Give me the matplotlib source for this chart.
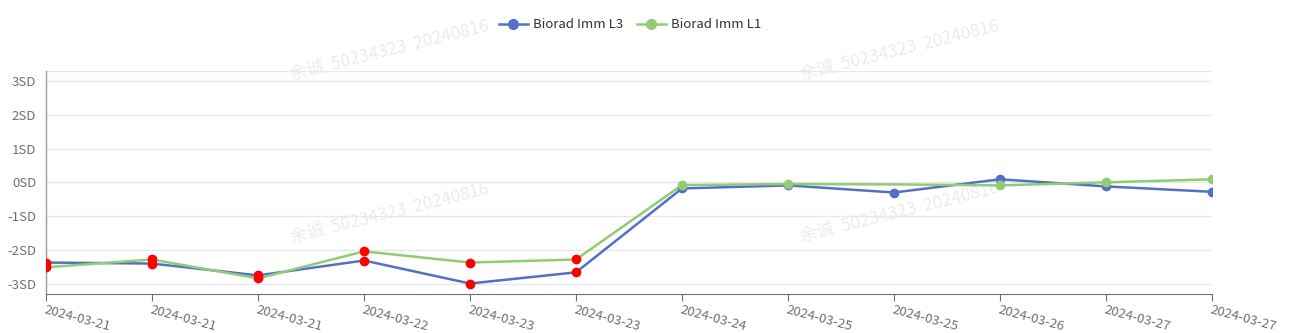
import numpy as np
import matplotlib.pyplot as plt

plt.rcParams['font.family'] = ['Noto Sans CJK SC', 'DejaVu Sans']

dates = ["2024-03-21", "2024-03-21", "2024-03-21", "2024-03-22", "2024-03-23", "2024-03-23",
         "2024-03-24", "2024-03-25", "2024-03-25", "2024-03-26", "2024-03-27", "2024-03-27"]
l3 = [-2.37, -2.40, -2.75, -2.31, -2.99, -2.66, -0.18, -0.09, -0.30, 0.09, -0.12, -0.28]
l1 = [-2.51, -2.28, -2.84, -2.04, -2.37, -2.28, -0.08, -0.05, -0.06, -0.09, 0.00, 0.09]
l1_hidden = [8]   # symbol not drawn in the original
sd_ticks = [-3, -2, -1, 0, 1, 2, 3]
sd_labels = ["-3SD", "-2SD", "-1SD", "0SD", "1SD", "2SD", "3SD"]
watermark = "余诚  50234323  20240816"

BLUE = "#5470c6"
GREEN = "#91cc75"
RED = "#ff0000"
GRAY = "#6e7079"

fig = plt.figure(figsize=(12.9, 3.33), dpi=100)
ax = fig.add_axes([46/1290, 1 - 294/333, (1212 - 46)/1290, (294 - 70.7)/333])
ax.set_zorder(2)
ax.patch.set_alpha(0)

x = np.arange(len(dates))
ymin, ymax = -3.3, 3.3

for yv in sd_ticks + [ymax]:
    ax.axhline(yv, color="#e6e8f0", lw=1, zorder=0)

def draw(vals, color, hidden=()):
    ax.plot(x, vals, color=color, lw=1.8, zorder=2)
    for i, v in enumerate(vals):
        if i in hidden:
            continue
        c = RED if abs(v) > 2 else color
        ax.plot(x[i], v, 'o', color=c, ms=6, mec=c, zorder=3)

draw(l3, BLUE)
draw(l1, GREEN, l1_hidden)

ax.set_xlim(x[0], x[-1])
ax.set_ylim(ymin, ymax)
ax.set_yticks(sd_ticks)
ax.set_yticklabels(sd_labels, color=GRAY, fontsize=9.5)
ax.tick_params(axis='y', length=0, pad=7)
ax.set_xticks(x)
ax.set_xticklabels(dates, color=GRAY, fontsize=9.5, rotation=-15, ha='left', va='top',
                   rotation_mode='anchor')
ax.tick_params(axis='x', length=5, color=GRAY, pad=2)
for s in ["top", "right"]:
    ax.spines[s].set_visible(False)
ax.spines["bottom"].set_color(GRAY)
ax.spines["left"].set_color("#9a9ca4")
ax.spines["left"].set_linewidth(1)

# watermark
for wx, wy in [(390, 50), (900, 50), (390, 213), (900, 212)]:
    fig.text(wx/1290, 1 - wy/333, watermark, fontsize=12.5, color="#ececec",
             rotation=14, ha='center', va='center', zorder=0)

# legend
h1, = ax.plot([], [], '-o', color=BLUE, lw=1.8, ms=7)
h2, = ax.plot([], [], '-o', color=GREEN, lw=1.8, ms=7)
fig.legend([h1, h2], ["Biorad Imm L3", "Biorad Imm L1"], loc='center',
           bbox_to_anchor=(630/1290, 1 - 25/333), ncol=2, frameon=False,
           fontsize=9.5, handlelength=2.2, handletextpad=0.4, columnspacing=1.0,
           labelcolor="#333333")

fig.savefig("out.png", dpi=100)
